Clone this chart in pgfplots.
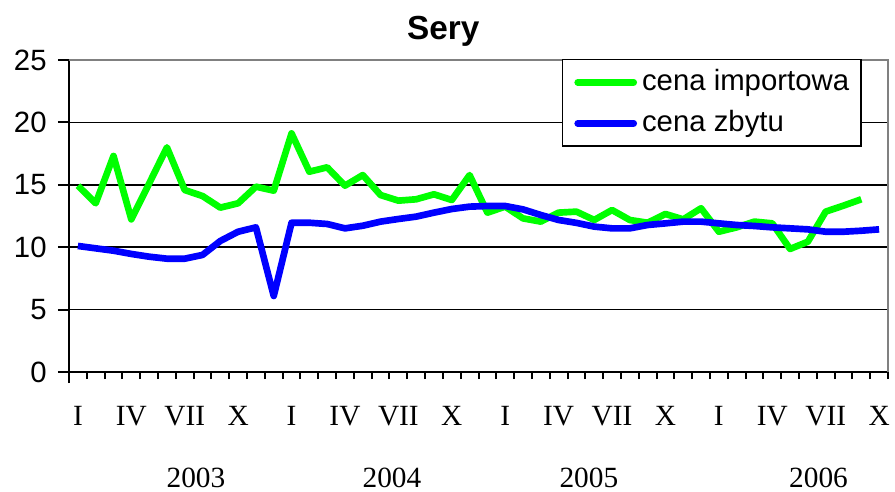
\documentclass[border=0pt]{standalone}
\usepackage{fontspec}
\setmainfont{Liberation Sans}
\newfontfamily\timesfont{Liberation Serif}
\usepackage{pgfplots}
\pgfplotsset{compat=1.18}
\definecolor{impgreen}{RGB}{0,255,0}
\definecolor{sellblue}{RGB}{0,0,255}

\begin{document}
\begin{tikzpicture}
\path[use as bounding box] (-51.75pt,-90pt) rectangle (619.5pt,279pt);
\begin{axis}[
    scale only axis,
    width=614.25pt, height=234pt,
    xmin=0.5, xmax=46.5,
    ymin=0, ymax=25,
    clip=false,
    axis x line*=bottom,
    axis y line*=left,
    axis line style={line width=1.5pt},
    tick align=outside,
    ytick={0,5,...,25},
    ymajorgrids,
    major grid style={black, line width=1.2pt},
    major tick length=8.25pt,
    minor tick length=5.25pt,
    tick style={black, line width=1.5pt},
    minor tick style={black, line width=1.5pt},
    xtick={0.5},
    xticklabels={},
    minor xtick={1.5,2.5,...,46.5},
    extra x ticks={1,4,7,10,13,16,19,22,25,28,31,34,37,40,43,46},
    extra x tick labels={I,IV,VII,X,I,IV,VII,X,I,IV,VII,X,I,IV,VII,X},
    extra x tick style={major tick length=0pt,
        tick label style={font=\timesfont\fontsize{22}{26}\selectfont, anchor=base, yshift=-39.75pt}},
    /pgf/number format/assume math mode=true,
    yticklabel style={font=\fontsize{22}{26}\selectfont, xshift=-5pt},
    title={Sery},
    title style={at={(0.457,1)}, anchor=base, yshift=9.75pt, font=\bfseries\fontsize{25}{30}\selectfont},
    legend style={at={(0.968,1.003)}, anchor=north east, draw=black, line width=1pt,
        fill=white, font=\fontsize{22}{26}\selectfont,
        inner xsep=9pt, inner ysep=6pt, row sep=8.75pt, column sep=3.75pt,
        nodes={inner sep=0pt, text height=17pt, text depth=5pt}},
    legend cell align=left,
    legend image code/.code={\draw[#1, line width=5pt, line cap=round] (2.6pt,0.1pt) -- (44.6pt,0.1pt);},
]
\addplot[impgreen, line width=5pt, line join=round] coordinates {
(1,14.93) (2,13.52) (3,17.31) (4,12.23) (5,15.1) (6,18.0) (7,14.58) (8,14.1)
(9,13.17) (10,13.52) (11,14.85) (12,14.53) (13,19.12) (14,16.05) (15,16.4)
(16,14.93) (17,15.78) (18,14.18) (19,13.73) (20,13.84) (21,14.24) (22,13.78)
(23,15.78) (24,12.77) (25,13.25) (26,12.31) (27,12.05) (28,12.77) (29,12.85)
(30,12.18) (31,12.98) (32,12.18) (33,11.96) (34,12.66) (35,12.23) (36,13.12)
(37,11.24) (38,11.59) (39,12.05) (40,11.91) (41,9.86) (42,10.44) (43,12.85)
(44,13.33) (45,13.84)
};
\addlegendentry{cena importowa}
\addplot[sellblue, line width=5pt, line join=round] coordinates {
(1,10.1) (2,9.91) (3,9.72) (4,9.46) (5,9.24) (6,9.08) (7,9.08) (8,9.38)
(9,10.5) (10,11.24) (11,11.59) (12,6.09) (13,11.96) (14,11.96) (15,11.86)
(16,11.51) (17,11.72) (18,12.05) (19,12.26) (20,12.45) (21,12.77) (22,13.06)
(23,13.25) (24,13.3) (25,13.3) (26,13.03) (27,12.58) (28,12.18) (29,11.95)
(30,11.65) (31,11.51) (32,11.51) (33,11.78) (34,11.91) (35,12.05) (36,12.05)
(37,11.91) (38,11.78) (39,11.7) (40,11.59) (41,11.51) (42,11.43) (43,11.24)
(44,11.24) (45,11.32) (46,11.43)
};
\addlegendentry{cena zbytu}
\draw[black!50, line width=1.5pt] (rel axis cs:0,1) -- (rel axis cs:1,1) -- (rel axis cs:1,0);
\node[anchor=base, font=\timesfont\fontsize{22}{26}\selectfont] at ([yshift=-86.5pt]axis cs:7.63,0) {2003};
\node[anchor=base, font=\timesfont\fontsize{22}{26}\selectfont] at ([yshift=-86.5pt]axis cs:18.64,0) {2004};
\node[anchor=base, font=\timesfont\fontsize{22}{26}\selectfont] at ([yshift=-86.5pt]axis cs:29.7,0) {2005};
\node[anchor=base, font=\timesfont\fontsize{22}{26}\selectfont] at ([yshift=-86.5pt]axis cs:42.6,0) {2006};
\end{axis}
\end{tikzpicture}
\end{document}
